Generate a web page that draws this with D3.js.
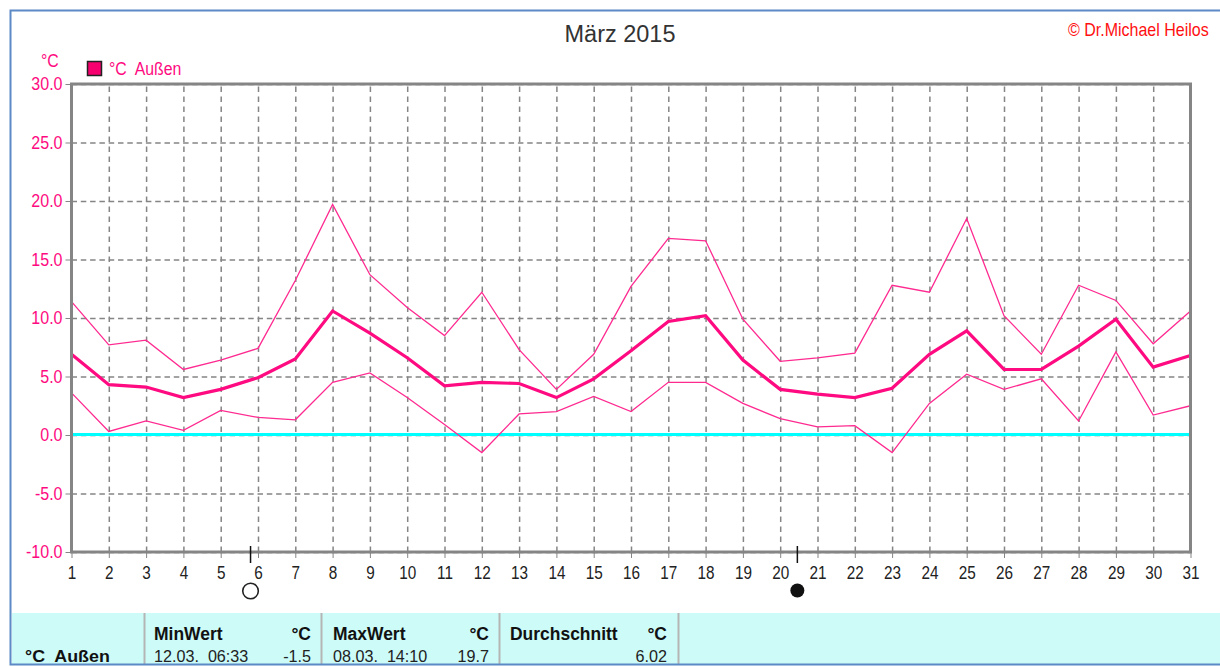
<!DOCTYPE html>
<html>
<head>
<meta charset="utf-8">
<script src="https://cdn.jsdelivr.net/npm/d3@7"></script>
<style>
  html, body { margin: 0; padding: 0; background: #fff; }
  svg { display: block; }
  text { font-family: "Liberation Sans", Arial, sans-serif; white-space: pre; }
</style>
</head>
<body>
<div id="myChart"></div>
<script>
// Values, one per day
let days = d3.range(1, 32);
let maxTemp = [11.4, 7.7, 8.1, 5.6, 6.4, 7.4, 13.2, 19.7, 13.7, 10.9, 8.5, 12.2, 7.3, 3.9, 6.9, 12.7,
  16.8, 16.6, 9.9, 6.3, 6.6, 7.0, 12.8, 12.2, 18.5, 10.2, 6.9, 12.8, 11.5, 7.8, 10.6];
let meanTemp = [6.9, 4.3, 4.1, 3.2, 3.9, 4.9, 6.5, 10.6, 8.7, 6.6, 4.2, 4.5, 4.4, 3.2, 4.8, 7.2,
  9.7, 10.2, 6.4, 3.9, 3.5, 3.2, 4.0, 6.9, 8.9, 5.6, 5.6, 7.6, 9.9, 5.8, 6.8];
let minTemp = [3.6, 0.3, 1.2, 0.4, 2.1, 1.5, 1.3, 4.5, 5.3, 3.2, 0.9, -1.5, 1.8, 2.0, 3.3, 2.0,
  4.5, 4.5, 2.7, 1.4, 0.7, 0.8, -1.5, 2.7, 5.2, 3.9, 4.8, 1.2, 7.1, 1.7, 2.5];
let yTicks = [30, 25, 20, 15, 10, 5, 0, -5, -10];
let fullMoonDay = 5.8;
let newMoonDay = 20.46;

let pink = "#ff0a80";
let thinPink = "#ff2a90";
let grey = "#858585";
let width = 1220, height = 666;
let plot = { left: 71.5, right: 1190.5, top: 84, bottom: 552 };

// The original font is tall and narrow, so squeeze the glyphs horizontally
function squeeze(sel, f) {
  sel.each(function () {
    d3.select(this)
      .attr("textLength", this.getComputedTextLength() * f)
      .attr("lengthAdjust", "spacingAndGlyphs");
  });
}

let svg = d3
  .select("#myChart")
  .append("svg")
  .attr("width", width)
  .attr("height", height);

let x = d3.scaleLinear().domain([1, 31]).range([plot.left, plot.right]);
let y = d3.scaleLinear().domain([-10, 30]).range([plot.bottom, plot.top]);

// Dashed grid
let gridY = svg
  .append("g")
  .attr("transform", `translate(${plot.left},0)`)
  .call(d3.axisLeft(y).tickValues(yTicks).tickSize(-(plot.right - plot.left)).tickFormat(""))
  .call((g) => g.select(".domain").remove());
gridY
  .selectAll("line")
  .attr("stroke", grey)
  .attr("stroke-width", 1.5)
  .attr("stroke-dasharray", "5.5,3.8");

let gridX = svg
  .append("g")
  .attr("transform", `translate(0,${plot.bottom})`)
  .call(d3.axisBottom(x).tickValues(days).tickSize(-(plot.bottom - plot.top)).tickFormat(""))
  .call((g) => g.select(".domain").remove());
gridX
  .selectAll("line")
  .attr("stroke", grey)
  .attr("stroke-width", 1.5)
  .attr("stroke-dasharray", "5.5,4.5");

// Zero line
svg
  .append("line")
  .attr("x1", plot.left)
  .attr("x2", plot.right)
  .attr("y1", y(0) - 0.5)
  .attr("y2", y(0) - 0.5)
  .attr("stroke", "#00ffff")
  .attr("stroke-width", 3);

// Temperature lines
let line = d3
  .line()
  .x((d, i) => x(days[i]))
  .y((d) => y(d));

[
  { values: maxTemp, w: 1.3, c: thinPink },
  { values: minTemp, w: 1.3, c: thinPink },
  { values: meanTemp, w: 3.2, c: pink },
].forEach((s) => {
  svg
    .append("path")
    .attr("d", line(s.values))
    .attr("fill", "none")
    .attr("stroke", s.c)
    .attr("stroke-width", s.w);
});

// Plot frame
svg
  .append("rect")
  .attr("x", plot.left)
  .attr("y", plot.top)
  .attr("width", plot.right - plot.left)
  .attr("height", plot.bottom - plot.top)
  .attr("fill", "none")
  .attr("stroke", grey)
  .attr("stroke-width", 3);

// Y axis, with a plain hyphen on the negative labels
let yAxis = svg
  .append("g")
  .attr("transform", `translate(${plot.left},0)`)
  .call(
    d3
      .axisLeft(y)
      .tickValues(yTicks)
      .tickSize(6)
      .tickPadding(3)
      .tickFormat((d) => d.toFixed(1))
  );
yAxis.select(".domain").remove();
yAxis.selectAll(".tick line").attr("stroke", grey);
yAxis
  .selectAll(".tick text")
  .attr("fill", pink)
  .style("font-size", "18px")
  .call(squeeze, 0.89);

// X axis
let xAxis = svg
  .append("g")
  .attr("transform", `translate(0,${plot.bottom})`)
  .call(d3.axisBottom(x).tickValues(days).tickSize(6).tickPadding(8));
xAxis.select(".domain").remove();
xAxis.selectAll(".tick line").attr("stroke", grey);
xAxis
  .selectAll(".tick text")
  .attr("fill", "#222")
  .style("font-size", "18px")
  .call(squeeze, 0.85);

// Moon phases
svg
  .selectAll(".moon-tick")
  .data([fullMoonDay, newMoonDay])
  .enter()
  .append("line")
  .attr("class", "moon-tick")
  .attr("x1", (d) => x(d))
  .attr("x2", (d) => x(d))
  .attr("y1", 546)
  .attr("y2", 563)
  .attr("stroke", "#111")
  .attr("stroke-width", 1.5);

svg
  .append("circle")
  .attr("cx", x(fullMoonDay))
  .attr("cy", 591)
  .attr("r", 7.8)
  .attr("fill", "#fff")
  .attr("stroke", "#222")
  .attr("stroke-width", 1.6);

svg
  .append("circle")
  .attr("cx", x(newMoonDay))
  .attr("cy", 590.5)
  .attr("r", 7)
  .attr("fill", "#111");

// Title and labels
svg
  .append("text")
  .attr("x", 620)
  .attr("y", 42)
  .attr("text-anchor", "middle")
  .attr("fill", "#333")
  .style("font-size", "23.5px")
  .text("März 2015");

svg
  .append("text")
  .attr("transform", "translate(1068,36) scale(0.89,1)")
  .attr("fill", "#ff1010")
  .style("font-size", "18px")
  .text("© Dr.Michael Heilos");

svg
  .append("text")
  .attr("x", 41)
  .attr("y", 67)
  .attr("fill", pink)
  .style("font-size", "18px")
  .text("°C")
  .call(squeeze, 0.88);

// Legend
svg
  .append("rect")
  .attr("x", 87.5)
  .attr("y", 61.5)
  .attr("width", 14)
  .attr("height", 14)
  .attr("fill", "#f5006e")
  .attr("stroke", "#222")
  .attr("stroke-width", 1.5);

svg
  .append("text")
  .attr("x", 109)
  .attr("y", 75)
  .attr("fill", pink)
  .style("font-size", "18px")
  .text("°C  Außen")
  .call(squeeze, 0.88);

// Summary table
let tableTop = 613;
let tableBottom = 664;
svg
  .append("rect")
  .attr("x", 12)
  .attr("y", tableTop)
  .attr("width", width - 12)
  .attr("height", tableBottom - tableTop)
  .attr("fill", "#ccfbf8");

let colLines = [144.5, 321.5, 499.5, 678.5];
svg
  .selectAll(".col-line")
  .data(colLines)
  .enter()
  .append("line")
  .attr("class", "col-line")
  .attr("x1", (d) => d)
  .attr("x2", (d) => d)
  .attr("y1", tableTop)
  .attr("y2", tableBottom)
  .attr("stroke", "#b5b5b5")
  .attr("stroke-width", 2);

let headCells = [
  { x: 154, a: "start", t: "MinWert" },
  { x: 311, a: "end", t: "°C" },
  { x: 333, a: "start", t: "MaxWert" },
  { x: 489, a: "end", t: "°C" },
  { x: 510, a: "start", t: "Durchschnitt" },
  { x: 667, a: "end", t: "°C" },
];
svg
  .selectAll(".head-cell")
  .data(headCells)
  .enter()
  .append("text")
  .attr("class", "head-cell")
  .attr("x", (d) => d.x)
  .attr("y", 640)
  .attr("text-anchor", (d) => d.a)
  .attr("fill", "#111")
  .style("font-size", "18px")
  .style("font-weight", "bold")
  .text((d) => d.t)
  .call(squeeze, 0.97);

let valueCells = [
  { x: 154, a: "start", t: "12.03.  06:33" },
  { x: 311, a: "end", t: "-1.5" },
  { x: 333, a: "start", t: "08.03.  14:10" },
  { x: 489, a: "end", t: "19.7" },
  { x: 667, a: "end", t: "6.02" },
];

let valueRow = svg.append("g");
valueRow
  .selectAll("text")
  .data(valueCells)
  .enter()
  .append("text")
  .attr("x", (d) => d.x)
  .attr("y", 662)
  .attr("text-anchor", (d) => d.a)
  .attr("fill", "#222")
  .style("font-size", "17px")
  .text((d) => d.t)
  .call(squeeze, 0.95);

valueRow
  .append("text")
  .attr("x", 25)
  .attr("y", 662)
  .attr("fill", "#111")
  .style("font-size", "17px")
  .style("font-weight", "bold")
  .text("°C  Außen")
  .call(squeeze, 1.05);

// Window border
svg
  .append("path")
  .attr("d", `M${width},10.5H10.5V664.5H${width}`)
  .attr("fill", "none")
  .attr("stroke", "#5b8ac6")
  .attr("stroke-width", 2);
</script>
</body>
</html>
